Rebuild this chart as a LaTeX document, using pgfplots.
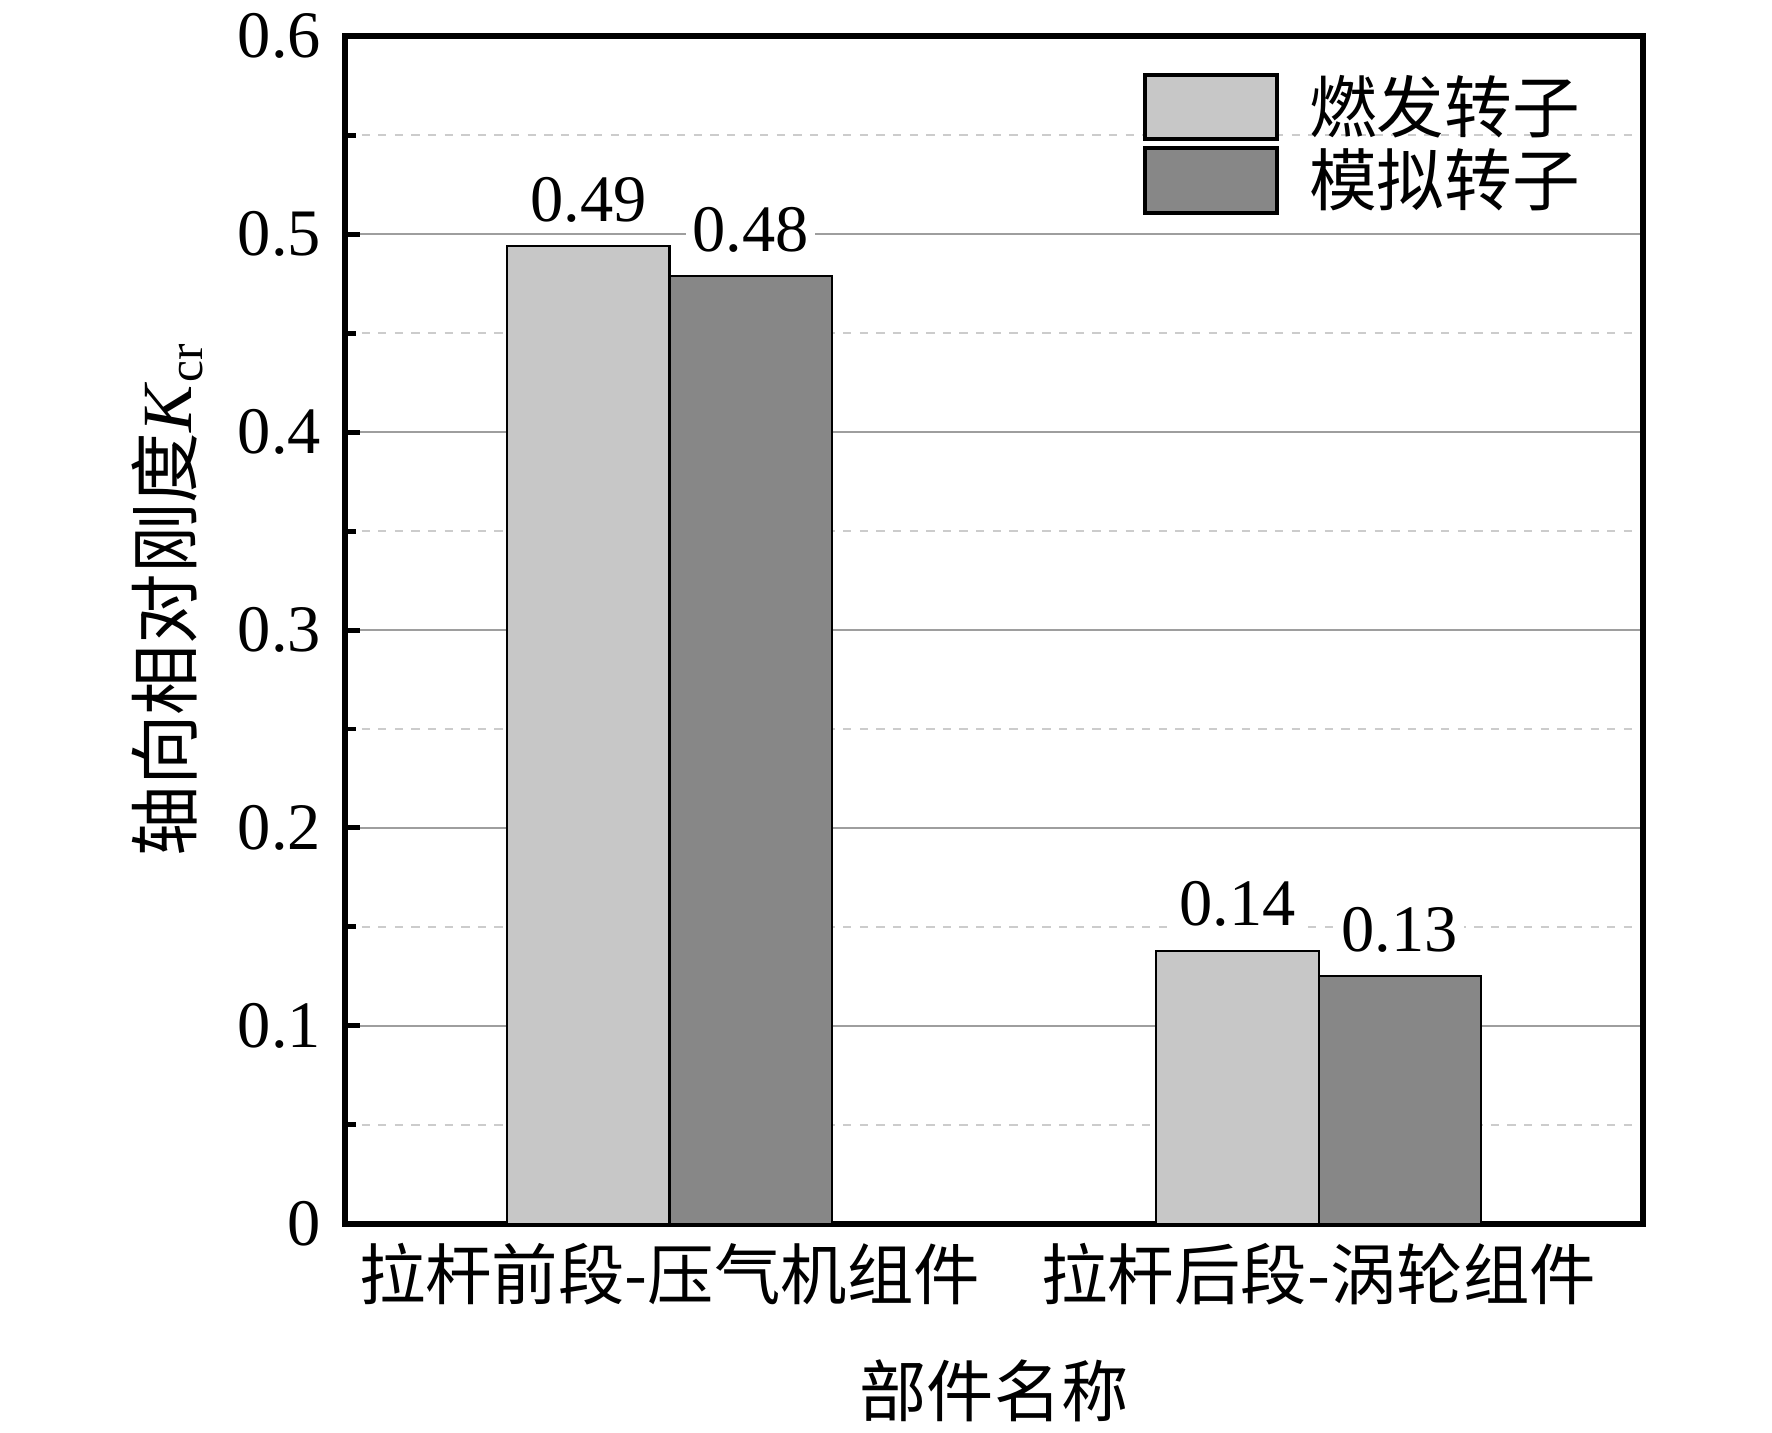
\documentclass[border=0pt]{standalone}
\usepackage{fontspec}
\setmainfont{Liberation Serif}
\newfontfamily\cjk{Noto Sans CJK SC}
\usepackage{pgfplots}
\pgfplotsset{compat=1.18}
\definecolor{lightbar}{RGB}{199,199,199}
\definecolor{darkbar}{RGB}{135,135,135}
\pgfplotstableread{
x y lab
0 0.494 0.49
1 0.138 0.14
}\ranfa
\pgfplotstableread{
x y lab
0 0.479 0.48
1 0.125 0.13
}\moni
\begin{document}
\begin{tikzpicture}
\useasboundingbox (-2.920cm,-1.771cm) rectangle (12.080cm,10.359cm);
\begin{axis}[
  at={(0,0)}, anchor=south west,
  scale only axis, width=10.990cm, height=10.051cm,
  ybar=0pt, bar width=0.25,
  xmin=-0.5, xmax=1.5, ymin=0, ymax=0.6,
  xtick={0,1},
  xticklabels={{\cjk 拉杆前段-压气机组件},{\cjk 拉杆后段-涡轮组件}},
  xticklabel style={font=\fontsize{16}{16}\selectfont, yshift=-0.04cm},
  ytick={0,0.1,0.2,0.3,0.4,0.5,0.6},
  yticklabels={0,0.1,0.2,0.3,0.4,0.5,0.6},
  minor ytick={0.05,0.15,0.25,0.35,0.45,0.55},
  yticklabel style={font=\fontsize{16}{18}\selectfont, xshift=-0.08cm},
  ymajorgrids, yminorgrids,
  major grid style={line width=0.55pt, black!38},
  minor grid style={dash pattern=on 2pt off 2pt, line width=0.4pt, black!20},
  tick align=inside, tick pos=left,
  major tick length=0.13cm, minor tick length=0.09cm,
  every tick/.style={black, line width=1.2pt},
  axis line style={line width=1.4pt},
  /pgf/number format/assume math mode=true,
  nodes near coords, point meta=explicit symbolic,
  nodes near coords style={font=\fontsize{16}{18}\selectfont, fill=white, inner sep=1.5pt, anchor=south, yshift=4pt},
  xlabel={\cjk 部件名称},
  xlabel style={at={(axis description cs:0.5,-0.141)}, anchor=center, font=\fontsize{16.2}{16.2}\selectfont},
  ylabel={{\cjk 轴向相对刚度}\textit{K}\textsubscript{cr}},
  ylabel style={at={(axis description cs:-0.137,0.526)}, anchor=center, font=\fontsize{17}{17}\selectfont},
  legend style={draw=none, fill=none, at={(axis description cs:0.614,0.970)}, anchor=north west,
    inner sep=0pt, row sep=0.04cm, column sep=0.235cm, nodes={inner sep=0.5pt},
    font=\fontsize{16.3}{16.3}\selectfont\cjk, cells={anchor=west}},
]
\addplot[fill=lightbar, draw=black, line width=0.5pt,
  legend image code/.code={\draw[fill=lightbar, draw=black, line width=1pt] (0cm,-0.273cm) rectangle (1.12cm,0.273cm);}]
  table[x=x, y=y, meta=lab] {\ranfa};
\addplot[fill=darkbar, draw=black, line width=0.5pt,
  legend image code/.code={\draw[fill=darkbar, draw=black, line width=1pt] (0cm,-0.273cm) rectangle (1.12cm,0.273cm);}]
  table[x=x, y=y, meta=lab] {\moni};
\legend{燃发转子, 模拟转子}
\end{axis}
\end{tikzpicture}
\end{document}
